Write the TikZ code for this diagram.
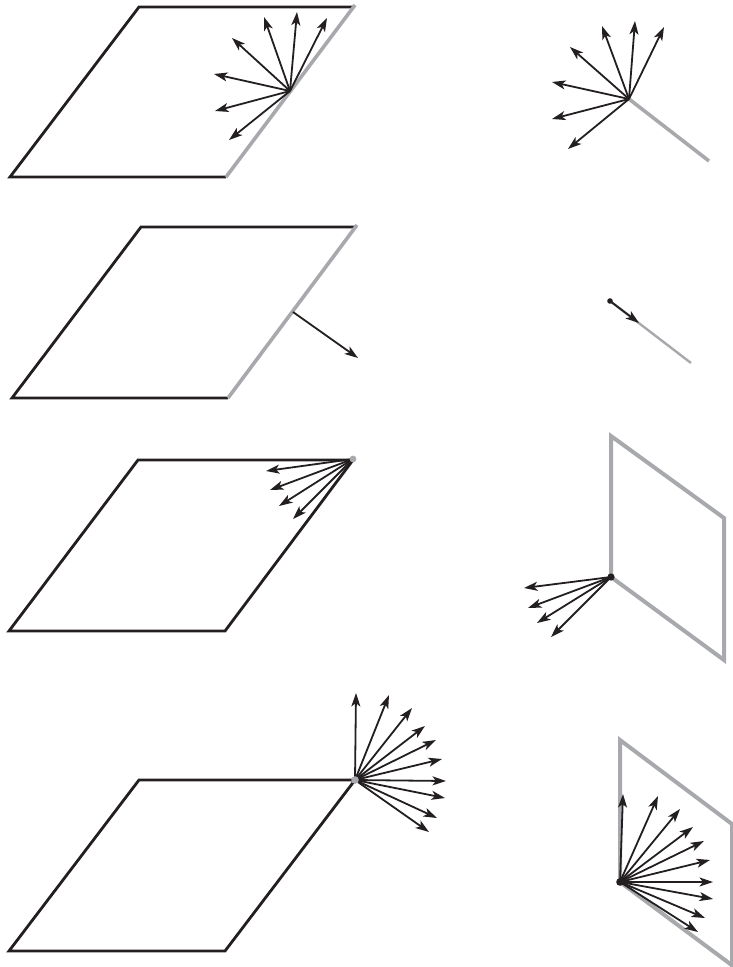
\documentclass[tikz,border=0pt]{standalone}
\usepackage{tikz}
\usetikzlibrary{arrows.meta}
\definecolor{edgeblack}{HTML}{231F20}
\definecolor{edgegrey}{HTML}{A7A9AC}
\tikzset{
  blackedge/.style={edgeblack,line width=2.8pt,line join=miter},
  greyedge/.style={edgegrey,line width=3.6pt,line join=miter},
  ray/.style={edgeblack,line width=1.8pt,-{Stealth[length=13.5pt,width=9pt,inset=3.5pt]}},
}
\begin{document}
\begin{tikzpicture}[x=1pt,y=-1pt]
  \useasboundingbox (0,0) rectangle (733,967);
  % first row
  \draw[blackedge] (226,177)--(10,177)--(139,7)--(353,7);
  \draw[greyedge] (226,177)--(355,5);
  \coordinate (oa) at (290,91);
  \foreach \x/\y in {327/18,297/12,264/17,232/38,214/74,215/111,229/140}
    \draw[ray] (oa)--(\x,\y);
  \coordinate (ob) at (629,99);
  \draw[greyedge] (ob)--(709,161);
  \foreach \x/\y in {664/27,635/21,602/26,570/47,552/82,552/119,568/149}
    \draw[ray] (ob)--(\x,\y);
  % second row
  \draw[blackedge] (228,398)--(12,398)--(141,227)--(355,227);
  \draw[greyedge] (228,398)--(357,225);
  \coordinate (oc) at (293,312);
  \draw[ray] (oc)--(358,358);
  \coordinate (od) at (610,301);
  \draw[edgegrey,line width=2.4pt] (od)--(691,363);
  \fill[edgeblack] (od) circle (2.8pt);
  \draw[ray] (od)--(639,323);
  % third row
  \draw[blackedge] (353,460)--(138,460)--(9,631)--(225,631)--cycle;
  \coordinate (oe) at (353,459);
  \foreach \x/\y in {266/471,270/490,279/506,293/519}
    \draw[ray] (oe)--(\x,\y);
  \fill[edgegrey] (oe) circle (3.4pt);
  \coordinate (of) at (611,577);
  \draw[greyedge,line width=4pt] (of)--(611,436)--(724,518)--(724,660)--cycle;
  \foreach \x/\y in {524/588,528/608,537/623,551/637}
    \draw[ray] (of)--(\x,\y);
  \fill[edgeblack] (of) circle (3.6pt);
  % fourth row
  \draw[blackedge] (355,780)--(139,780)--(9,951)--(225,951)--cycle;
  \coordinate (og) at (355,780);
  \foreach \x/\y in {356/693,389/695,412/708,425/726,436/740,442/759,446/781,445/798,437/818,429/832}
    \draw[ray] (og)--(\x,\y);
  \fill[edgegrey] (og) circle (3.8pt);
  \coordinate (oh) at (620,882);
  \draw[greyedge,line width=4pt] (oh)--(620,740)--(732,824)--(732,967);
  \draw[greyedge,line width=4pt] (oh)--(733,966);
  \foreach \x/\y in {623/794,658/796,680/809,693/827,704/841,710/860,713/882,713/899,705/918,698/932}
    \draw[ray] (oh)--(\x,\y);
  \fill[edgeblack] (oh) circle (3.8pt);
\end{tikzpicture}
\end{document}
